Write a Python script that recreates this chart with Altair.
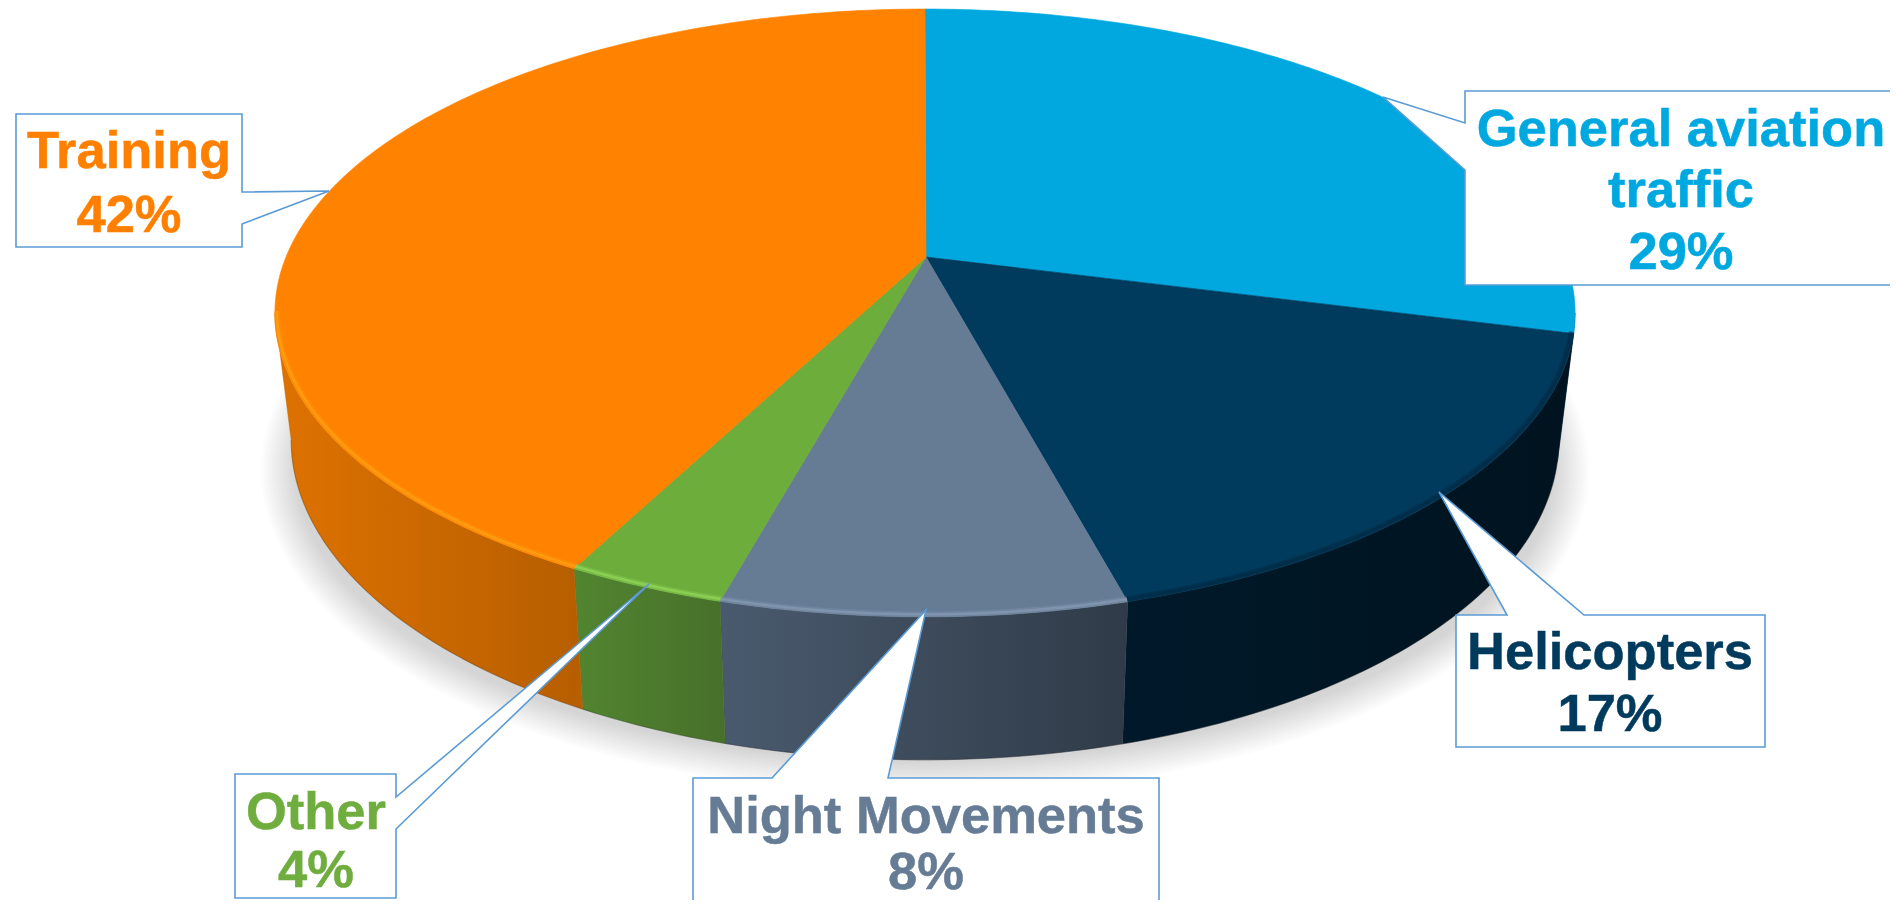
import math
import altair as alt

# ---- data (clockwise from 12 o'clock)
categories = ["General aviation traffic", "Helicopters", "Night Movements", "Other", "Training"]
shares = [29.0, 16.8, 8.45, 3.35, 42.4]          # measured wedge sizes
label_lines = [["General aviation", "traffic", "29%"],
               ["Helicopters", "17%"],
               ["Night Movements", "8%"],
               ["Other", "4%"],
               ["Training", "42%"]]

# ---- styles
top_colors = ["#00A8DF", "#003A5C", "#667C95", "#6DAD3C", "#FF8200"]
text_colors = ["#00A8E0", "#003A5C", "#667C95", "#6FAD3F", "#FF8000"]
side_stops = [["#00506F", "#003A57"], ["#00192A", "#00131F"], ["#4A5A6E", "#2F3B48"],
              ["#528530", "#47702A"], ["#DE7200", "#B65E00"]]
rim_colors = [None, "#00253D", "#8296AE", "#8CD055", "#FF9C10"]
box_stroke = "#5B9BD5"

# ---- perspective of the tilted disc, in page pixels
CX, PERSP = 925.0, 0.184
TOP = dict(a=-246.3, b=257.0, s=639.0)
BOTTOM = dict(a=-239.0, b=381.0, s=623.0)
EDGE = math.degrees(math.acos(-PERSP))


def project_point(deg, face):
    r = math.radians(deg)
    u, v = math.sin(r), math.cos(r)
    d = 1 + PERSP * v
    return [CX + face["s"] * u / d, (face["a"] * v + face["b"]) / d]


def arc(a0, a1, face, step=1.0):
    n = max(2, int(abs(a1 - a0) / step) + 1)
    return [project_point(a0 + (a1 - a0) * i / n, face) for i in range(n + 1)]


def poly(pts):
    return {"type": "Feature", "properties": {},
            "geometry": {"type": "Polygon", "coordinates": [pts + [pts[0]]]}}


def line(pts):
    return {"type": "Feature", "properties": {},
            "geometry": {"type": "LineString", "coordinates": pts}}


def geo(feature, **mark):
    return alt.Chart(alt.Data(values=[feature])).mark_geoshape(**mark)


# wedge angles
bounds = [0.0]
for s in shares:
    bounds.append(bounds[-1] + s * 3.6)

layers = []

# soft shadow under the disc
RINGS = 14
for i in range(RINGS):
    k = i / (RINGS - 1)
    rx, ry = 664 - 34 * k, 325 - 32 * k
    pts = [[925 + rx * math.sin(math.radians(t)), 470 + ry * math.cos(math.radians(t))]
           for t in range(0, 360, 2)]
    layers.append(geo(poly(pts), fill="#000000", fillOpacity=0.0105, strokeWidth=0))

# side walls (front part only)
for i in range(len(shares)):
    a0, a1 = max(bounds[i], EDGE), min(bounds[i + 1], 360 - EDGE)
    if a1 <= a0:
        continue
    pts = arc(a0, a1, TOP) + arc(a1, a0, BOTTOM)
    grad = alt.Gradient(gradient="linear", x1=0, x2=1, y1=0, y2=0,
                        stops=[alt.GradientStop(offset=0, color=side_stops[i][0]),
                               alt.GradientStop(offset=1, color=side_stops[i][1])])
    layers.append(geo(poly(pts), fill=grad, stroke=side_stops[i][1], strokeWidth=0.4))
    layers.append(geo(line(arc(a0, a1, BOTTOM)), filled=False, stroke="#1c1c1c",
                      strokeWidth=1.2, strokeOpacity=0.2))

# top faces
for i in range(len(shares)):
    pts = [[926.0, 257.0]] + arc(bounds[i], bounds[i + 1], TOP)
    layers.append(geo(poly(pts), fill=top_colors[i], stroke=top_colors[i], strokeWidth=0.6))

# bevel highlight along the front rim
for i in range(len(shares)):
    if rim_colors[i] is None:
        continue
    a0, a1 = max(bounds[i], EDGE), min(bounds[i + 1], 360 - EDGE)
    pts = arc(a0, a1, dict(a=TOP["a"], b=TOP["b"] - 2, s=TOP["s"] - 2))
    layers.append(geo(line(pts), filled=False, stroke=rim_colors[i], strokeWidth=6,
                      strokeOpacity=0.35, strokeCap="butt"))
    layers.append(geo(line(pts), filled=False, stroke=rim_colors[i], strokeWidth=2.6,
                      strokeOpacity=0.9 if i != 1 else 0.4, strokeCap="butt"))

# callouts
callouts = [
    [[1465, 91], [1910, 91], [1910, 285], [1465, 285], [1465, 170], [1383, 97], [1465, 123]],
    [[1456, 615], [1507, 615], [1439, 492], [1584, 615], [1765, 615], [1765, 747], [1456, 747]],
    [[693, 778], [772, 778], [926, 610], [888, 778], [1159, 778], [1159, 925], [693, 925]],
    [[235, 774], [396, 774], [396, 797], [649, 584], [396, 829], [396, 898], [235, 898]],
    [[16, 114], [242, 114], [242, 192], [329, 191], [242, 224], [242, 247], [16, 247]],
]
for c in callouts:
    layers.append(geo(poly([[float(x), float(y)] for x, y in c]),
                      fill="#FFFFFF", stroke=box_stroke, strokeWidth=1.6))

# label text
centres = [1681, 1610, 926, 316, 129]
baselines = [[146, 207, 269], [669, 731], [833, 889], [829, 887], [168, 232]]
rows = []
for i, lines in enumerate(label_lines):
    for t, b in zip(lines, baselines[i]):
        rows.append({"text": t, "lon": centres[i], "lat": b, "colour": text_colors[i]})
layers.append(
    alt.Chart(alt.Data(values=rows))
    .mark_text(font="Liberation Sans", fontWeight="bold", fontSize=52.5,
               align="center", baseline="alphabetic", strokeWidth=0.5)
    .encode(longitude="lon:Q", latitude="lat:Q", text="text:N",
            color=alt.Color("colour:N", scale=None),
            stroke=alt.Stroke("colour:N", scale=None))
)

chart = (
    alt.layer(*layers)
    .project(type="identity", scale=1, translate=[-8, -8])
    .properties(width=1882, height=892, padding=0,
                autosize=alt.AutoSizeParams(type="none"), background="#FFFFFF")
    .configure_view(stroke=None)
)
chart.save("out.html", embed_options={"renderer": "svg", "actions": False})
